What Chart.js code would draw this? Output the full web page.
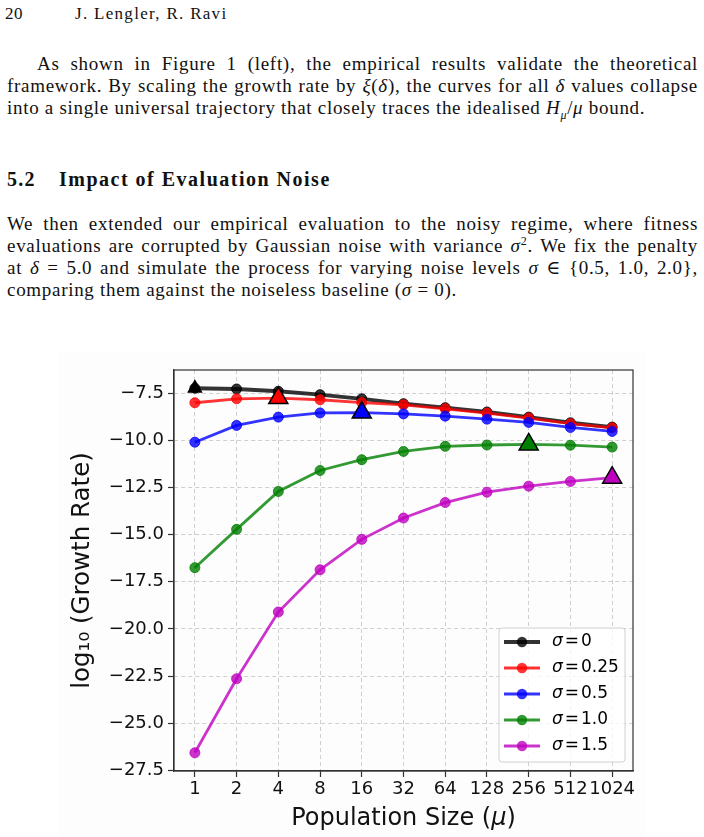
<!DOCTYPE html>
<html>
<head>
<meta charset="utf-8">
<script src="https://cdn.jsdelivr.net/npm/chart.js@4.4.1/dist/chart.umd.min.js"></script>
<style>
  html, body { margin: 0; padding: 0; background: #fff; }
  body { width: 704px; height: 837px; position: relative; overflow: hidden;
         font-family: 'Liberation Serif', 'DejaVu Serif', serif; color: #111; }
  .txt { position: absolute; font-size: 19px; line-height: 22px; white-space: nowrap; letter-spacing: 0.7px; }
  .just { text-align: justify; text-align-last: justify; white-space: normal; }
  .figbg { position: absolute; left: 58px; top: 353px; width: 588px; height: 484px; background: #fdfdfd; }
  #chart { position: absolute; left: 58px; top: 353px; }
  sub, sup { font-size: 12px; line-height: 0; }
</style>
</head>
<body>
<div class="txt" style="left:5px; top:3px; font-size:17px; letter-spacing:0.6px;">20</div>
<div class="txt" style="left:75px; top:3px; font-size:17px; letter-spacing:1.3px;">J. Lengler, R. Ravi</div>

<div class="txt just" style="left:37px; top:53px; width:661px;">As shown in Figure 1 (left), the empirical results validate the theoretical</div>
<div class="txt just" style="left:7px; top:75px; width:691px;">framework. By scaling the growth rate by <i>ξ</i>(<i>δ</i>), the curves for all <i>δ</i> values collapse</div>
<div class="txt" style="left:7px; top:97px;">into a single universal trajectory that closely traces the idealised <i>H<sub>μ</sub></i>/<i>μ</i> bound.</div>

<div class="txt" style="left:7px; top:168px; font-size:20px; font-weight:bold; letter-spacing:1.2px;">5.2</div>
<div class="txt" style="left:59px; top:168px; font-size:20px; font-weight:bold; letter-spacing:1.5px;">Impact of Evaluation Noise</div>

<div class="txt just" style="left:7px; top:213px; width:691px;">We then extended our empirical evaluation to the noisy regime, where fitness</div>
<div class="txt just" style="left:7px; top:235px; width:691px;">evaluations are corrupted by Gaussian noise with variance <i>σ</i><sup>2</sup>. We fix the penalty</div>
<div class="txt just" style="left:7px; top:257px; width:691px;">at <i>δ</i> = 5.0 and simulate the process for varying noise levels <i>σ</i> ∈ {0.5, 1.0, 2.0},</div>
<div class="txt" style="left:7px; top:279px;">comparing them against the noiseless baseline (<i>σ</i> = 0).</div>

<div class="figbg"></div>
<canvas id="chart" width="588" height="484"></canvas>

<script>
const populationSizes = ['1', '2', '4', '8', '16', '32', '64', '128', '256', '512', '1024'];
const sigmaLabels = ['0', '0.25', '0.5', '1.0', '1.5'];

// log10 growth rate per noise level
const growthSigma0 = [-7.24, -7.28, -7.40, -7.58, -7.80, -8.06, -8.27, -8.50, -8.77, -9.07, -9.30];
const growthSigma025 = [-8.01, -7.80, -7.76, -7.85, -8.00, -8.12, -8.33, -8.56, -8.82, -9.12, -9.34];
const growthSigma05 = [-10.10, -9.21, -8.77, -8.55, -8.53, -8.60, -8.72, -8.88, -9.05, -9.32, -9.53];
const growthSigma10 = [-16.75, -14.72, -12.71, -11.60, -11.03, -10.59, -10.32, -10.25, -10.22, -10.26, -10.36];
const growthSigma15 = [-26.56, -22.64, -19.10, -16.86, -15.25, -14.12, -13.30, -12.75, -12.43, -12.18, -11.98];

const yTicks = [-27.5, -25, -22.5, -20, -17.5, -15, -12.5, -10, -7.5];

const series = [growthSigma0, growthSigma025, growthSigma05, growthSigma10, growthSigma15];
const colors = ['0,0,0', '255,0,0', '0,0,255', '0,128,0', '191,0,191'];
const FONT = 'DejaVu Sans';

const allValues = series.flat();
const dataMin = Math.min(...allValues);
const dataMax = Math.max(...allValues);
const margin = (dataMax - dataMin) * 0.05;

const datasets = [];
series.forEach((values, i) => {
    datasets.push({
        label: sigmaLabels[i],
        data: values,
        isSeries: true,
        borderColor: `rgba(${colors[i]},0.8)`,
        backgroundColor: `rgba(${colors[i]},0.8)`,
        borderWidth: i === 0 ? 3.8 : 2.8,
        pointRadius: 5,
        pointBorderWidth: 1,
        tension: 0,
        order: 10 - i
    });
});
series.forEach((values, i) => {
    const peak = values.indexOf(Math.max(...values));
    datasets.push({
        label: 'peak ' + sigmaLabels[i],
        data: values.map((v, j) => (j === peak ? v : null)),
        showLine: false,
        pointStyle: 'triangle',
        pointRadius: i === 0 ? 7.5 : 11,
        backgroundColor: `rgb(${colors[i]})`,
        borderColor: '#000',
        pointBorderWidth: 1.5,
        order: -1
    });
});

const frame = {
    id: 'frame',
    afterDatasetsDraw(chart) {
        const { ctx, chartArea: a } = chart;
        ctx.save();
        ctx.strokeStyle = '#333';
        ctx.lineWidth = 1.2;
        ctx.strokeRect(a.left, a.top, a.right - a.left, a.bottom - a.top);
        ctx.restore();
    }
};

// x title drawn by hand so that mu can be italic
const xTitle = {
    id: 'xTitle',
    afterDraw(chart) {
        const { ctx, chartArea: a } = chart;
        const parts = [['Population Size (', ''], ['μ', 'italic '], [')', '']];
        ctx.save();
        ctx.fillStyle = '#111';
        ctx.textBaseline = 'middle';
        let total = 0;
        parts.forEach(([t, st]) => { ctx.font = `${st}24px ${FONT}`; total += ctx.measureText(t).width; });
        let x = (a.left + a.right) / 2 - total / 2;
        const y = a.bottom + 48;
        parts.forEach(([t, st]) => {
            ctx.font = `${st}24px ${FONT}`;
            ctx.fillText(t, x, y);
            x += ctx.measureText(t).width;
        });
        ctx.restore();
    }
};

const legendBox = {
    id: 'legendBox',
    afterDraw(chart) {
        const { ctx, chartArea: a } = chart;
        const items = chart.data.datasets.filter(d => d.isSeries);
        const w = 126, h = 134;
        const x = a.right - 8 - w;
        const y = a.bottom - 9 - h;
        ctx.save();
        ctx.fillStyle = 'rgba(255,255,255,0.8)';
        ctx.strokeStyle = '#d0d0d0';
        ctx.lineWidth = 1;
        ctx.beginPath();
        ctx.roundRect(x, y, w, h, 3);
        ctx.fill();
        ctx.stroke();
        items.forEach((d, i) => {
            const cy = y + 14 + i * 26;
            ctx.strokeStyle = d.borderColor;
            ctx.lineWidth = d.borderWidth;
            ctx.beginPath();
            ctx.moveTo(x + 5, cy);
            ctx.lineTo(x + 41, cy);
            ctx.stroke();
            ctx.fillStyle = d.backgroundColor;
            ctx.beginPath();
            ctx.arc(x + 23, cy, 5.2, 0, Math.PI * 2);
            ctx.fill();
            ctx.fillStyle = '#000';
            ctx.textBaseline = 'middle';
            ctx.font = `italic 17px ${FONT}`;
            ctx.fillText('σ', x + 53, cy);
            let tx = x + 53 + ctx.measureText('σ').width + 2;
            ctx.font = `17px ${FONT}`;
            ctx.fillText('=', tx, cy);
            tx += ctx.measureText('=').width + 2;
            ctx.fillText(d.label, tx, cy);
        });
        ctx.restore();
    }
};

const gridOpts = {
    color: 'rgba(170,170,170,0.55)',
    lineWidth: 1,
    tickLength: 6,
    tickColor: '#333',
    tickWidth: 1.2,
    tickBorderDash: []
};

new Chart(document.getElementById('chart').getContext('2d'), {
    type: 'line',
    data: { labels: populationSizes, datasets: datasets },
    options: {
        responsive: false,
        animation: false,
        layout: { padding: { left: 10, top: 17, right: 13, bottom: 6 } },
        plugins: { legend: { display: false }, tooltip: { enabled: false } },
        scales: {
            x: {
                type: 'category',
                offset: true,
                grid: gridOpts,
                border: { display: true, color: '#333', width: 1.2, dash: [4, 3] },
                ticks: { color: '#111', font: { family: FONT, size: 18 }, padding: 2, maxRotation: 0, autoSkip: false },
                afterFit: s => { s.height = 60; }
            },
            y: {
                min: dataMin - margin,
                max: dataMax + margin,
                afterBuildTicks: s => { s.ticks = yTicks.map(v => ({ value: v })); },
                grid: gridOpts,
                border: { display: true, color: '#333', width: 1.2, dash: [4, 3] },
                ticks: {
                    color: '#111',
                    font: { family: FONT, size: 18 },
                    padding: 4,
                    callback: v => v.toFixed(1).replace('-', '\u2212')
                },
                title: { display: true, text: 'log\u2081\u2080 (Growth Rate)', color: '#111', font: { family: FONT, size: 24.5 }, padding: 0 },
                afterFit: s => { s.width = 106; }
            }
        }
    },
    plugins: [frame, xTitle, legendBox]
});
</script>
</body>
</html>
